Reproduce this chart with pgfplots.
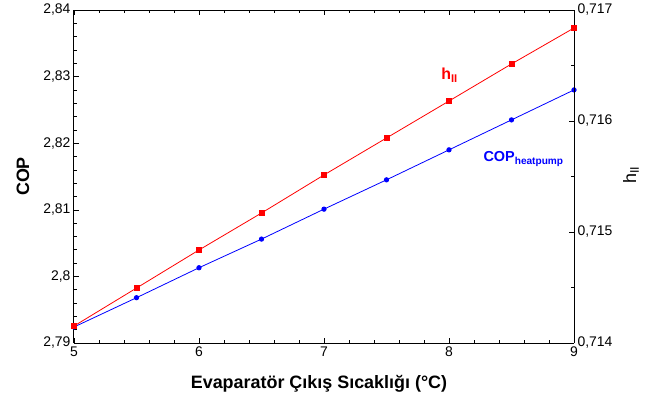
\documentclass[border=0pt]{standalone}
\usepackage{pgfplots}
\pgfplotsset{compat=1.18}
\usetikzlibrary{calc}
\usepackage{fontspec}
\setmainfont{Liberation Sans}
\begin{document}
\begin{tikzpicture}
\pgfplotsset{
  every axis/.append style={
    width=500bp, height=333bp, scale only axis,
    xmin=5, xmax=9,
    tick align=inside,
    major tick length=5bp, minor tick length=3bp,
    tick style={black, line width=0.6bp},
    axis line style={line width=1bp},
    tick label style={font=\fontsize{14}{16}\selectfont},
    /pgf/number format/assume math mode=true,
    /pgf/number format/use comma,
  }
}
\begin{axis}[
  name=ax,
  ymin=2.79, ymax=2.84,
  xtick={5,6,7,8,9},
  minor x tick num=4,
  ytick={2.79,2.80,2.81,2.82,2.83,2.84},
  minor y tick num=4,
  yticklabel={\pgfmathprintnumber[precision=2,use comma]{\tick}},
  axis y line*=left,
  axis x line*=box,
  xlabel={\bfseries Evaparatör Çıkış Sıcaklığı (°C)},
  ylabel={\bfseries COP},
  label style={font=\fontsize{18}{20}\selectfont\bfseries},
  xlabel style={at={(axis description cs:0.49,-0.138)}, anchor=base},
  ylabel style={at={(axis description cs:-0.102,0.5)}, anchor=center, rotate=0},
]
\coordinate (ll) at (rel axis cs:0,0);
\addplot[blue, line width=0.8bp, mark=*, mark size=2.2bp] coordinates {
(5,2.7924) (5.5,2.7968) (6,2.8013) (6.5,2.8056) (7,2.8101)
(7.5,2.8145) (8,2.8190) (8.5,2.8235) (9,2.8280)
};
\node[blue, anchor=base west, font=\fontsize{14.5}{16}\selectfont\bfseries] at (axis cs:8.248,2.8172) {COP\textsubscript{heatpump}};
\end{axis}
\begin{axis}[
  ymin=0.714, ymax=0.717,
  axis y line*=right,
  axis x line=none,
  ytick={0.714,0.715,0.716,0.717},
  minor y tick num=1,
  yticklabel={\pgfmathprintnumber[fixed,precision=3,use comma]{\tick}},
  ylabel={},
]
\addplot[red, line width=0.8bp, mark=square*, mark size=2.6bp] coordinates {
(5,0.714153) (5.5,0.714495) (6,0.714838) (6.5,0.715171) (7,0.715514)
(7.5,0.715847) (8,0.716180) (8.5,0.716514) (9,0.716838)
};
\node[red, anchor=base west, font=\fontsize{16}{18}\selectfont\bfseries] at (axis cs:7.91,0.71637) {h\textsubscript{II}};
\end{axis}
\node[rotate=90, anchor=center, font=\fontsize{18}{20}\selectfont] at ($(ll)+(557bp,168bp)$) {h\textsubscript{II}};
\path[use as bounding box] ($(ll)+(-74bp,-62bp)$) rectangle ++(663bp,405bp);
\end{tikzpicture}
\end{document}
